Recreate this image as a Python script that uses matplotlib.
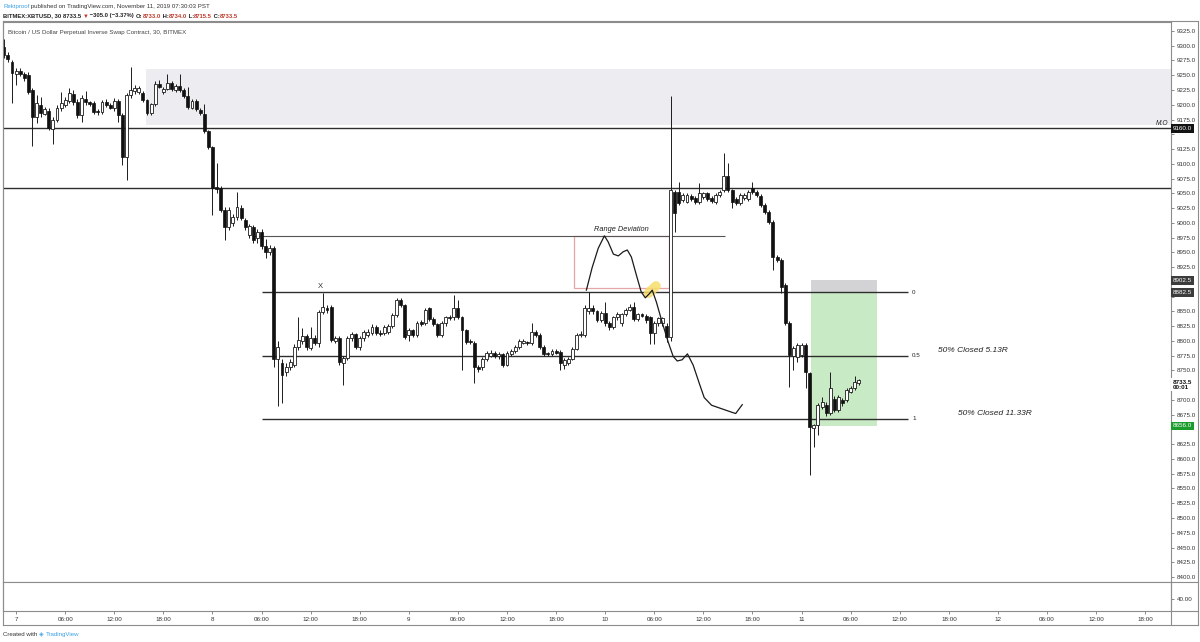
import numpy as np
import matplotlib.pyplot as plt
from matplotlib.patches import Rectangle
from matplotlib.lines import Line2D

plt.rcParams['font.family'] = ['Liberation Sans', 'DejaVu Sans']

# ---- XBTUSD 30m candles, index 0 = Nov 7 00:00 ----
first_idx = -3
opens = [
    9298, 9284, 9272, 9252, 9257, 9252, 9250, 9225, 9179, 9200,
    9185, 9190, 9159, 9175, 9195, 9200, 9206, 9219, 9205, 9183,
    9210, 9204, 9203, 9189, 9188, 9204, 9199, 9194, 9206, 9183,
    9112, 9217, 9223, 9222, 9220, 9208, 9186, 9201, 9235, 9222,
    9227, 9237, 9225, 9232, 9225, 9215, 9195, 9206, 9191, 9184,
    9155, 9128, 9060, 9059, 9022, 8993, 9000, 9010, 9025, 9005,
    8980, 8993, 8975, 8985, 8960, 8950, 8958, 8770, 8763, 8747,
    8756, 8759, 8790, 8800, 8808, 8788, 8805, 8797, 8849, 8855,
    8857, 8800, 8805, 8763, 8771, 8805, 8811, 8790, 8805, 8810,
    8814, 8824, 8814, 8813, 8815, 8825, 8844, 8869, 8860, 8810,
    8818, 8810, 8832, 8830, 8855, 8837, 8828, 8810, 8830, 8840,
    8840, 8855, 8840, 8818, 8800, 8797, 8756, 8755, 8770, 8775,
    8780, 8774, 8777, 8760, 8778, 8783, 8790, 8797, 8797, 8796,
    8815, 8810, 8790, 8779, 8777, 8783, 8781, 8760, 8763, 8770,
    8787, 8810, 8810, 8850, 8855, 8850, 8836, 8848, 8830, 8824,
    8840, 8830, 8845, 8853, 8858, 8837, 8845, 8843, 8840, 8813,
    8830, 8830, 8826, 8807, 9052, 9052, 9038, 9036, 9045, 9042,
    9035, 9043, 9050, 9042, 9035, 9047, 9055, 9080, 9055, 9040,
    9034, 9042, 9040, 9059, 9052, 9045, 9030, 9018, 9001, 8942,
    8937, 8895, 8830, 8775, 8773, 8776, 8793, 8745, 8652, 8657,
    8688, 8692, 8678, 8702, 8683, 8700, 8700, 8714, 8720, 8728,
]
highs = [
    9312, 9290, 9276, 9262, 9262, 9256, 9255, 9228, 9217, 9213,
    9196, 9195, 9180, 9199, 9222, 9214, 9228, 9225, 9209, 9216,
    9223, 9207, 9207, 9192, 9208, 9210, 9203, 9212, 9210, 9186,
    9220, 9264, 9234, 9232, 9224, 9210, 9203, 9240, 9242, 9230,
    9252, 9240, 9235, 9252, 9228, 9230, 9210, 9209, 9194, 9201,
    9158, 9130, 9101, 9062, 9026, 9026, 9015, 9052, 9030, 9008,
    8998, 8996, 8990, 8990, 8972, 8962, 8960, 8800, 8770, 8762,
    8770, 8795, 8841, 8822, 8812, 8824, 8810, 8852, 8881, 8860,
    8860, 8808, 8808, 8774, 8808, 8815, 8814, 8808, 8818, 8820,
    8828, 8827, 8818, 8827, 8828, 8847, 8873, 8872, 8863, 8822,
    8821, 8833, 8836, 8855, 8858, 8840, 8831, 8833, 8843, 8844,
    8878, 8870, 8843, 8821, 8803, 8800, 8760, 8773, 8783, 8784,
    8783, 8781, 8780, 8783, 8786, 8793, 8803, 8804, 8800, 8830,
    8818, 8813, 8793, 8782, 8786, 8786, 8784, 8771, 8773, 8790,
    8813, 8816, 8860, 8883, 8860, 8853, 8850, 8866, 8834, 8843,
    8849, 8848, 8856, 8862, 8866, 8848, 8848, 8846, 8843, 8833,
    8841, 8841, 8830, 9215, 9056, 9069, 9050, 9050, 9048, 9045,
    9067, 9053, 9053, 9045, 9050, 9056, 9118, 9101, 9058, 9043,
    9050, 9050, 9056, 9069, 9055, 9048, 9033, 9021, 9004, 8945,
    8940, 8898, 8833, 8791, 8796, 8796, 8796, 8748, 8660, 8694,
    8705, 8696, 8747, 8706, 8708, 8703, 8720, 8723, 8740, 8736,
]
lows = [
    9280, 9272, 9203, 9234, 9248, 9240, 9218, 9130, 9169, 9180,
    9182, 9157, 9134, 9170, 9190, 9196, 9203, 9200, 9178, 9171,
    9200, 9198, 9184, 9182, 9185, 9196, 9192, 9190, 9171, 9098,
    9073, 9212, 9218, 9218, 9204, 9183, 9183, 9198, 9228, 9219,
    9225, 9224, 9222, 9222, 9212, 9193, 9192, 9190, 9183, 9153,
    9125, 9013, 9050, 9018, 8971, 8988, 8995, 9005, 9004, 8988,
    8975, 8965, 8965, 8955, 8940, 8945, 8755, 8690, 8695, 8740,
    8750, 8755, 8785, 8795, 8785, 8784, 8793, 8790, 8845, 8848,
    8798, 8796, 8760, 8725, 8768, 8800, 8786, 8785, 8800, 8806,
    8810, 8810, 8808, 8810, 8812, 8822, 8840, 8858, 8804, 8800,
    8806, 8806, 8826, 8827, 8834, 8825, 8806, 8806, 8826, 8835,
    8836, 8837, 8751, 8795, 8795, 8729, 8748, 8750, 8766, 8772,
    8771, 8770, 8756, 8757, 8775, 8780, 8787, 8794, 8793, 8793,
    8807, 8787, 8774, 8774, 8774, 8777, 8750, 8752, 8760, 8767,
    8784, 8806, 8807, 8846, 8846, 8832, 8832, 8826, 8819, 8820,
    8836, 8826, 8842, 8850, 8833, 8834, 8840, 8830, 8795, 8795,
    8826, 8826, 8798, 8800, 8985, 9030, 9035, 9033, 9037, 9032,
    9032, 9040, 9037, 9034, 9032, 9044, 9052, 9052, 9025, 9030,
    9031, 9039, 9037, 9049, 9044, 9027, 9015, 8998, 8920, 8934,
    8881, 8827, 8722, 8751, 8765, 8772, 8720, 8573, 8620, 8640,
    8684, 8672, 8675, 8680, 8680, 8690, 8696, 8711, 8717, 8726,
]
closes = [
    9284, 9277, 9254, 9257, 9252, 9245, 9222, 9179, 9203, 9186,
    9192, 9161, 9175, 9195, 9203, 9208, 9220, 9205, 9183, 9212,
    9204, 9201, 9188, 9188, 9204, 9199, 9195, 9206, 9183, 9112,
    9217, 9225, 9229, 9229, 9208, 9186, 9201, 9235, 9230, 9227,
    9237, 9227, 9232, 9225, 9215, 9196, 9207, 9193, 9186, 9156,
    9128, 9059, 9057, 9022, 8993, 9022, 9010, 9027, 9008, 8993,
    8995, 8971, 8985, 8960, 8950, 8958, 8770, 8790, 8742, 8756,
    8764, 8790, 8802, 8808, 8790, 8805, 8797, 8849, 8857, 8852,
    8802, 8805, 8764, 8771, 8805, 8811, 8790, 8805, 8815, 8815,
    8824, 8814, 8812, 8824, 8825, 8844, 8869, 8861, 8807, 8818,
    8810, 8830, 8829, 8852, 8837, 8828, 8810, 8830, 8840, 8838,
    8855, 8840, 8818, 8798, 8798, 8756, 8752, 8770, 8780, 8780,
    8775, 8778, 8760, 8780, 8783, 8790, 8800, 8800, 8796, 8815,
    8810, 8790, 8777, 8777, 8783, 8780, 8763, 8768, 8770, 8787,
    8810, 8812, 8856, 8856, 8850, 8836, 8847, 8830, 8824, 8840,
    8845, 8845, 8853, 8858, 8837, 8845, 8843, 8835, 8813, 8830,
    8838, 8838, 8807, 9055, 9017, 9034, 9047, 9047, 9040, 9035,
    9050, 9050, 9040, 9037, 9047, 9052, 9080, 9055, 9035, 9034,
    9047, 9047, 9053, 9052, 9047, 9030, 9018, 9001, 8942, 8937,
    8891, 8830, 8776, 8788, 8793, 8793, 8747, 8654, 8657, 8691,
    8697, 8678, 8720, 8683, 8705, 8695, 8717, 8720, 8730, 8733.5,
]

# ---- drawn levels / zones ----
mo_level = 9160.0
upper_level = 9059.0
fib_levels = [8882.5, 8775.25, 8668.0]
fib_labels = ['0', '0.5', '1']
deviation_level = 8978.0
supply_zone = (9166, 9261)
target_zone = (8656.0, 8882.5)
stop_zone = (8882.5, 8902.5)
red_box = (8890, 8978)

# hand-drawn projection path (candle index, price)
path_x = [139.4, 140.8, 142.3, 143.8, 144.7, 146.0, 147.2, 148.4, 149.4, 150.4,
          151.6, 152.8, 153.8, 154.8, 155.5, 156.5, 157.9, 159.4, 160.6, 161.6,
          162.8, 164.1, 165.5, 167.0, 168.2, 170.0, 172.5, 175.0, 175.9, 177.5]
path_y = [8886, 8924, 8957, 8978, 8968, 8947, 8944, 8951, 8954, 8942,
          8912, 8883, 8873, 8880, 8886, 8866, 8832, 8798, 8774, 8766,
          8768, 8778, 8759, 8728, 8704, 8691, 8685, 8679, 8677, 8692]

day_ticks = list(range(0, 277, 12))
day_names = ['7', '8', '9', '10', '11', '12']

axis_prices = np.arange(8400, 9326, 25)
hidden_prices = [9150, 8900, 8875, 8725, 8650]   # covered by the price tags

W, H = 1200.0, 642.0


def box(l, t, r, b):
    return [l / W, 1 - b / H, (r - l) / W, (b - t) / H]


fig = plt.figure(figsize=(12, 6.42), dpi=100)
ax = fig.add_axes(box(3, 22, 1171, 582))
ax2 = fig.add_axes(box(3, 582, 1171, 611), sharex=ax)

LINE = '#2e2e2e'
GRID = '#8c8c8c'

o = np.array(opens, dtype=float)
h = np.array(highs, dtype=float)
l = np.array(lows, dtype=float)
c = np.array(closes, dtype=float)
idx = np.arange(first_idx, first_idx + len(o))
up = c >= o
body_lo = np.minimum(o, c)
body_h = np.maximum(np.abs(c - o), 1.8)

ax.vlines(idx, l, h, color='#1c1c1c', lw=0.7, zorder=3)
ax.bar(idx[up], body_h[up], bottom=body_lo[up], width=0.72, color='white',
       edgecolor='#1c1c1c', lw=0.6, zorder=4)
ax.bar(idx[~up], body_h[~up], bottom=body_lo[~up], width=0.72, color='#111111',
       edgecolor='#111111', lw=0.5, zorder=4)

# zones
ax.add_patch(Rectangle((31.8, supply_zone[0]), 300, supply_zone[1] - supply_zone[0],
                       fc='#ededf1', ec='none', zorder=0))
ax.add_patch(Rectangle((194.4, target_zone[0]), 16.1, target_zone[1] - target_zone[0],
                       fc='#c8eac4', ec='none', zorder=1))
ax.add_patch(Rectangle((194.4, stop_zone[0]), 16.1, stop_zone[1] - stop_zone[0],
                       fc='#d3d3d5', ec='none', zorder=1))
ax.add_patch(Rectangle((136.4, red_box[0]), 23.3, red_box[1] - red_box[0],
                       fill=False, ec='#e6a6a6', lw=0.9, zorder=2))

# horizontal levels
ax.axhline(mo_level, color=LINE, lw=1.0, zorder=2)
ax.axhline(upper_level, color=LINE, lw=1.0, zorder=2)
ax.hlines(fib_levels, 60.1, 218.1, color=LINE, lw=1.0, zorder=2)
ax.hlines(deviation_level, 58.0, 173.4, color='#555555', lw=0.8, zorder=2)

# projection path + highlight
ax.plot([154.6, 156.4], [8881, 8893], color='#f6de6a', lw=7, alpha=0.85,
        solid_capstyle='round', zorder=2)
ax.plot(path_x, path_y, color='#1a1a1a', lw=0.9, zorder=5)

# labels on chart
for lev, lab in zip(fib_levels, fib_labels):
    ax.text(219.0, lev, lab, fontsize=4.5, va='center', ha='left', color='#222')
ax.text(225.3, fib_levels[1] + 3, '50% Closed 5.13R', fontsize=6, style='italic',
        va='bottom', ha='left', color='#222')
ax.text(230.2, fib_levels[2] + 3, '50% Closed 11.33R', fontsize=6, style='italic',
        va='bottom', ha='left', color='#222')
ax.text(148.0, deviation_level + 4, 'Range Deviation', fontsize=5.3, style='italic',
        va='bottom', ha='center', color='#222')
ax.text(74.3, fib_levels[0] + 4, 'X', fontsize=5.5, va='bottom', ha='center',
        color='#333', fontweight='light')
ax.text(281.7, mo_level + 3, 'M.O', fontsize=4.8, style='italic', va='bottom',
        ha='right', color='#222')
ax.text(0.004, 0.985, 'Bitcoin / US Dollar Perpetual Inverse Swap Contract, 30, BITMEX',
        transform=ax.transAxes, fontsize=4.4, color='#444', va='top', ha='left')

# axes styling
ax.set_xlim(-3.2, 282.3)
ax.set_ylim(8391.6, 9340.2)
ax.yaxis.tick_right()
ax.set_yticks(axis_prices)
ax.set_yticklabels(['' if v in hidden_prices else f'{v:.1f}' for v in axis_prices])
ax.tick_params(axis='y', length=2.5, width=0.6, color='#777', labelsize=4.5,
               pad=1.5, labelcolor='#333')
ax.tick_params(axis='x', bottom=False, labelbottom=False)
for sp in ax.spines.values():
    sp.set_color(GRID)
    sp.set_linewidth(0.8)

ax2.set_ylim(0, 96.6)
ax2.yaxis.tick_right()
ax2.set_yticks([40])
ax2.set_yticklabels(['40.00'])
ax2.tick_params(axis='y', length=2.5, width=0.6, color='#777', labelsize=4.5,
                pad=1.5, labelcolor='#333')
tick_labels = []
for t in day_ticks:
    if t % 48 == 0:
        tick_labels.append(day_names[t // 48])
    else:
        tick_labels.append(f'{(t % 48) // 2:02d}:00')
ax2.set_xticks(day_ticks)
ax2.set_xticklabels(tick_labels)
ax2.tick_params(axis='x', length=2, width=0.6, color='#777', labelsize=4.5,
                pad=2.5, labelcolor='#333')
for sp in ax2.spines.values():
    sp.set_color(GRID)
    sp.set_linewidth(0.8)
ax2.set_xlim(-3.2, 282.3)


def price_tag(price, text, fc, tc, ec='none'):
    ax.annotate(text, xy=(1, price), xycoords=('axes fraction', 'data'),
                xytext=(1.2, 0), textcoords='offset points', va='center', ha='left',
                fontsize=4.5, color=tc, annotation_clip=False, zorder=10,
                bbox=dict(boxstyle='square,pad=0.3', fc=fc, ec=ec, lw=0.5))


price_tag(mo_level, '9160.0', '#131313', 'white')
price_tag(stop_zone[1], '8902.5', '#3c3c3c', 'white')
price_tag(stop_zone[0], '8882.5', '#3c3c3c', 'white')
price_tag(target_zone[0], '8656.0', '#1c9c2c', 'white')
ax.annotate('8733.5\n00:01', xy=(1, closes[-1] - 8), xycoords=('axes fraction', 'data'),
            xytext=(1.2, 0), textcoords='offset points', va='center', ha='left',
            fontsize=4.5, color='#111', fontweight='bold', linespacing=1.0,
            annotation_clip=False, zorder=10,
            bbox=dict(boxstyle='square,pad=0.25', fc='white', ec='none'))

# frame lines
for xs, ys in [([3, 1198], [21, 21]), ([1198, 1198], [21, 625]), ([3, 1198], [625, 625]),
               ([3, 3], [21, 625]), ([1171, 1171], [582, 625]), ([1171, 1198], [582, 582]),
               ([1171, 1198], [611, 611])]:
    fig.add_artist(Line2D([x / W for x in xs], [1 - y / H for y in ys], color=GRID, lw=0.8))


# header text, chained piece by piece
def chain(parts, x, y, size, weight='normal'):
    t = fig.text(x / W, 1 - y / H, parts[0][0], color=parts[0][1], fontsize=size,
                 fontweight=weight, va='bottom', ha='left')
    for s, col in parts[1:]:
        t = ax.annotate(s, xy=(1, 0), xycoords=t, va='bottom', ha='left', color=col,
                        fontsize=size, fontweight=weight, annotation_clip=False)


chain([('Rektproof', '#3aa0e8'),
       (' published on TradingView.com, November 11, 2019 07:30:03 PST', '#333')],
      3, 9, 4.4)
red = '#c0392b'
chain([('BITMEX:XBTUSD, 30 ', '#222'), ('8733.5 ', '#222'), ('\u25bc', red),
       (' \u2212305.0 (\u22123.37%) ', '#222'), ('O:', '#222'), ('8733.0', red),
       (' H:', '#222'), ('8734.0', red), (' L:', '#222'), ('8715.5', red),
       (' C:', '#222'), ('8733.5', red)], 3, 18.5, 4.2, 'bold')
chain([('Created with ', '#333'), ('\u25c8 ', '#3aa0e8'), ('TradingView', '#3aa0e8')],
      3, 637, 4.4)

fig.savefig('out.png', dpi=100, facecolor='white')
